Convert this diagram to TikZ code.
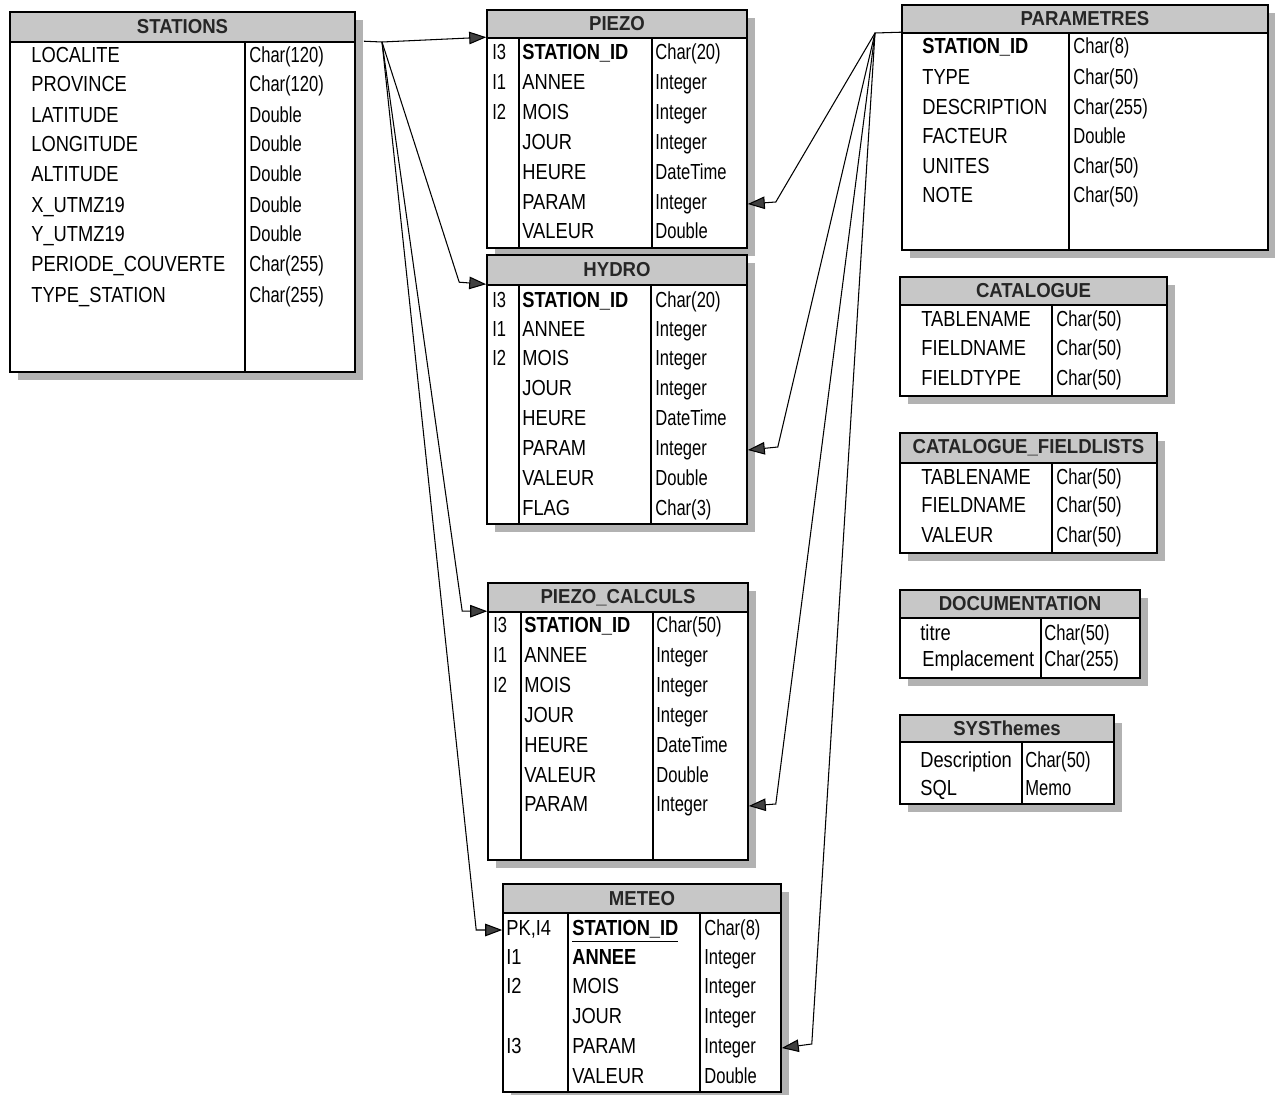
\documentclass[tikz,border=0pt]{standalone}
\usepackage{fontspec}
\setmainfont{Liberation Sans}[FakeStretch=0.84]
\newfontfamily\typefont{Liberation Sans}[FakeStretch=0.76]
\newfontfamily\headfont{Liberation Sans}[FakeStretch=0.92]
\usetikzlibrary{arrows.meta,calc,fit,shadows}

\tikzset{
    tblshadow/.style={drop shadow={shadow xshift=0.16cm, shadow yshift=-0.16cm, fill=black!30, opacity=1}},
    tblhead/.style={tblshadow, draw=black, line width=0.8pt, fill=black!22, inner sep=0pt},
    tbltitle/.style={font=\headfont\fontsize{11.5}{13}\selectfont\bfseries, text=black!85, inner sep=0pt},
    tblbody/.style={tblshadow, draw=black, line width=0.9pt, fill=white, inner sep=0pt},
    coldiv/.style={draw=black, line width=0.6pt},
    fieldtext/.style={font=\fontsize{12.4}{14}\selectfont, anchor=west, inner sep=0pt,
        text height=9pt, text depth=2.4pt},
    typetext/.style={font=\typefont\fontsize{12.4}{14}\selectfont, anchor=west, inner sep=0pt,
        text height=9pt, text depth=2.4pt},
    link/.style={draw=black, line width=0.6pt, -{Triangle[length=0.34cm, width=0.25cm, fill=black!75]}},
}

\begin{document}
\begin{tikzpicture}[x=0.02cm, y=-0.02cm]
    \useasboundingbox (0,0) rectangle (1275,1095);

    % STATIONS
    \node[tblhead, fit={(10,12) (355,42)}] (stations-h) {};
    \node[tbltitle] (stations-title) at (stations-h.center) {STATIONS};
    \node[tblbody, fit={(10,42) (355,372)}] (stations) {};
    \draw[coldiv] (245,42) -- (245,372);
    \foreach \y/\n/\t [count=\i] in {57/LOCALITE/Char(120), 86/PROVINCE/Char(120),
        117/LATITUDE/Double, 146/LONGITUDE/Double, 176/ALTITUDE/Double,
        207/X\_UTMZ19/Double, 236/Y\_UTMZ19/Double,
        266/PERIODE\_COUVERTE/Char(255), 297/TYPE\_STATION/Char(255)} {
        \node[fieldtext] (stations-f\i) at (31,\y) {\n};
        \node[typetext] (stations-t\i) at (249,\y) {\t};
    }

    % PIEZO
    \node[tblhead, fit={(487,10) (747,38)}] (piezo-h) {};
    \node[tbltitle] (piezo-title) at (piezo-h.center) {PIEZO};
    \node[tblbody, fit={(487,38) (747,248)}] (piezo) {};
    \draw[coldiv] (519,38) -- (519,248) (652,38) -- (652,248);
    \foreach \y/\k/\n/\t [count=\i] in {54/I3/{\textbf{STATION\_ID}}/Char(20),
        84/I1/ANNEE/Integer, 114/I2/MOIS/Integer, 144//JOUR/Integer,
        174//HEURE/DateTime, 204//PARAM/Integer, 233//VALEUR/Double} {
        \node[typetext] (piezo-k\i) at (492,\y) {\k};
        \node[fieldtext] (piezo-f\i) at (522,\y) {\n};
        \node[typetext] (piezo-t\i) at (655,\y) {\t};
    }

    % HYDRO
    \node[tblhead, fit={(487,255) (747,285)}] (hydro-h) {};
    \node[tbltitle] (hydro-title) at (hydro-h.center) {HYDRO};
    \node[tblbody, fit={(487,285) (747,524)}] (hydro) {};
    \draw[coldiv] (519,285) -- (519,524) (651,285) -- (651,524);
    \foreach \y/\k/\n/\t [count=\i] in {302/I3/{\textbf{STATION\_ID}}/Char(20),
        331/I1/ANNEE/Integer, 360/I2/MOIS/Integer, 390//JOUR/Integer,
        420//HEURE/DateTime, 450//PARAM/Integer, 480//VALEUR/Double, 510//FLAG/Char(3)} {
        \node[typetext] (hydro-k\i) at (492,\y) {\k};
        \node[fieldtext] (hydro-f\i) at (522,\y) {\n};
        \node[typetext] (hydro-t\i) at (655,\y) {\t};
    }

    % PIEZO_CALCULS
    \node[tblhead, fit={(488,583) (748,612)}] (calculs-h) {};
    \node[tbltitle] (calculs-title) at (calculs-h.center) {PIEZO\_CALCULS};
    \node[tblbody, fit={(488,612) (748,860)}] (calculs) {};
    \draw[coldiv] (521,612) -- (521,860) (653,612) -- (653,860);
    \foreach \y/\k/\n/\t [count=\i] in {627/I3/{\textbf{STATION\_ID}}/Char(50),
        657/I1/ANNEE/Integer, 687/I2/MOIS/Integer, 717//JOUR/Integer,
        747//HEURE/DateTime, 777//VALEUR/Double, 806//PARAM/Integer} {
        \node[typetext] (calculs-k\i) at (493,\y) {\k};
        \node[fieldtext] (calculs-f\i) at (524,\y) {\n};
        \node[typetext] (calculs-t\i) at (656,\y) {\t};
    }

    % METEO
    \node[tblhead, fit={(503,884) (781,913)}] (meteo-h) {};
    \node[tbltitle] (meteo-title) at (meteo-h.center) {METEO};
    \node[tblbody, fit={(503,913) (781,1092)}] (meteo) {};
    \draw[coldiv] (568,913) -- (568,1092) (700,913) -- (700,1092);
    \foreach \y/\k/\n/\t [count=\i] in {930/{PK,I4}/{\underline{\textbf{STATION\_ID}}}/Char(8),
        959/I1/{\textbf{ANNEE}}/Integer, 988/I2/MOIS/Integer, 1018//JOUR/Integer,
        1048/I3/PARAM/Integer, 1078//VALEUR/Double} {
        \node[fieldtext] (meteo-k\i) at (506,\y) {\k};
        \node[fieldtext] (meteo-f\i) at (572,\y) {\n};
        \node[typetext] (meteo-t\i) at (704,\y) {\t};
    }

    % PARAMETRES
    \node[tblhead, fit={(902,5) (1268,33)}] (parametres-h) {};
    \node[tbltitle] (parametres-title) at (parametres-h.center) {PARAMETRES};
    \node[tblbody, fit={(902,33) (1268,250)}] (parametres) {};
    \draw[coldiv] (1069,33) -- (1069,250);
    \foreach \y/\n/\t [count=\i] in {48/{\textbf{STATION\_ID}}/Char(8), 79/TYPE/Char(50),
        109/DESCRIPTION/Char(255), 138/FACTEUR/Double, 168/UNITES/Char(50), 197/NOTE/Char(50)} {
        \node[fieldtext] (parametres-f\i) at (922,\y) {\n};
        \node[typetext] (parametres-t\i) at (1073,\y) {\t};
    }

    % CATALOGUE
    \node[tblhead, fit={(900,277) (1167,305)}] (catalogue-h) {};
    \node[tbltitle] (catalogue-title) at (catalogue-h.center) {CATALOGUE};
    \node[tblbody, fit={(900,305) (1167,396)}] (catalogue) {};
    \draw[coldiv] (1052,305) -- (1052,396);
    \foreach \y/\n [count=\i] in {321/TABLENAME, 350/FIELDNAME, 380/FIELDTYPE} {
        \node[fieldtext] (catalogue-f\i) at (921,\y) {\n};
        \node[typetext] (catalogue-t\i) at (1056,\y) {Char(50)};
    }

    % CATALOGUE_FIELDLISTS
    \node[tblhead, fit={(900,433) (1157,463)}] (fieldlists-h) {};
    \node[tbltitle] (fieldlists-title) at (fieldlists-h.center) {CATALOGUE\_FIELDLISTS};
    \node[tblbody, fit={(900,463) (1157,553)}] (fieldlists) {};
    \draw[coldiv] (1052,463) -- (1052,553);
    \foreach \y/\n [count=\i] in {479/TABLENAME, 507/FIELDNAME, 537/VALEUR} {
        \node[fieldtext] (fieldlists-f\i) at (921,\y) {\n};
        \node[typetext] (fieldlists-t\i) at (1056,\y) {Char(50)};
    }

    % DOCUMENTATION
    \node[tblhead, fit={(900,590) (1140,618)}] (documentation-h) {};
    \node[tbltitle] (documentation-title) at (documentation-h.center) {DOCUMENTATION};
    \node[tblbody, fit={(900,618) (1140,678)}] (documentation) {};
    \draw[coldiv] (1041,618) -- (1041,678);
    \foreach \y/\x/\n/\t [count=\i] in {635/920/titre/Char(50), 661/922/Emplacement/Char(255)} {
        \node[fieldtext] (documentation-f\i) at (\x,\y) {\n};
        \node[typetext] (documentation-t\i) at (1044,\y) {\t};
    }

    % SYSThemes
    \node[tblhead, fit={(900,715) (1114,742)}] (systhemes-h) {};
    \node[tbltitle] (systhemes-title) at (systhemes-h.center) {SYSThemes};
    \node[tblbody, fit={(900,742) (1114,804)}] (systhemes) {};
    \draw[coldiv] (1022,742) -- (1022,804);
    \foreach \y/\n/\t [count=\i] in {762/Description/Char(50), 790/SQL/Memo} {
        \node[fieldtext] (systhemes-f\i) at (920,\y) {\n};
        \node[typetext] (systhemes-t\i) at (1025,\y) {\t};
    }

    % links from STATIONS
    \coordinate (st-fork) at (382,42);
    \draw[link] ($(stations.north east)+(8,0)$) -- (st-fork) -- (piezo.north west);
    \draw[link] (st-fork) -- ($(hydro.north west)+(-27,-2)$) -- (hydro.north west);
    \draw[link] (st-fork) -- ($(calculs.north west)+(-25,0)$) -- (calculs.north west);
    \draw[link] (st-fork) -- ($(meteo.west |- meteo-k1)+(-26,0)$) -- (meteo.west |- meteo-k1);

    % links from PARAMETRES
    \coordinate (pa-fork) at (875,33);
    \draw[link] (parametres.north west) -- (pa-fork) -- ($(piezo.east |- piezo-f6)+(28,-2)$) -- (piezo.east |- piezo-f6);
    \draw[link] (pa-fork) -- ($(hydro.east |- hydro-f6)+(30,-3)$) -- (hydro.east |- hydro-f6);
    \draw[link] (pa-fork) -- ($(calculs.east |- calculs-f7)+(27,-2)$) -- (calculs.east |- calculs-f7);
    \draw[link] (pa-fork) -- ($(meteo.east |- meteo-f5)+(30,-4)$) -- (meteo.east |- meteo-f5);
\end{tikzpicture}
\end{document}
